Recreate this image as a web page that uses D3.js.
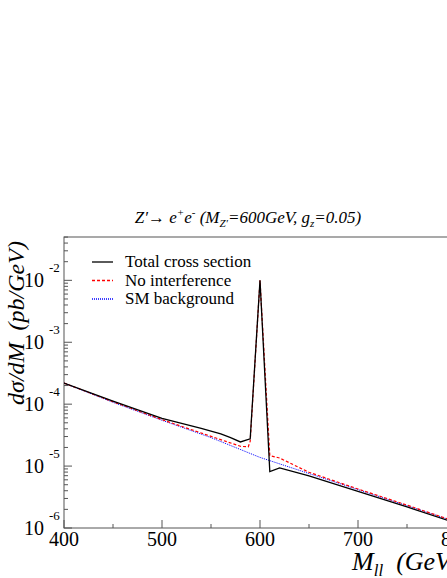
<!DOCTYPE html><html><head><script src="https://cdn.jsdelivr.net/npm/d3@7"></script>
<style>body{margin:0;background:#fff}text{font-family:"Liberation Serif",serif;white-space:pre}</style></head><body>
<script>
const xTicks=[400,500,600,700,800];
const yTicks=[-6,-5,-4,-3,-2];
const massSM=[400,450,500,550,600,650,700,750,800];
const logSM=[-3.66,-3.97,-4.26,-4.54,-4.86,-5.12,-5.38,-5.64,-5.9];
const massNI=[400,450,500,550,580,588,590,600,610,620,650,700,750,800];
const logNI=[-3.66,-3.96,-4.25,-4.52,-4.68,-4.69,-4.6,-2.0,-4.83,-4.87,-5.1,-5.37,-5.63,-5.9];
const massTot=[400,450,500,520,540,560,570,580,590,600,610,620,650,700,750,800];
const logTot=[-3.66,-3.95,-4.23,-4.31,-4.39,-4.48,-4.54,-4.61,-4.56,-2.0,-5.09,-5.03,-5.16,-5.41,-5.66,-5.92];
const W=447,H=578;
const svg=d3.select("body").append("svg").attr("width",W).attr("height",H);
const x=d3.scaleLinear().domain([400,800]).range([64,456]);
const y=d3.scaleLog().domain([1e-6,10**-1.3]).range([528,237]);
svg.append("rect").attr("x",64).attr("y",237).attr("width",392).attr("height",291).attr("fill","none").attr("stroke","#555");
const g=svg.append("g");
d3.range(400,801,50).forEach(v=>{const big=v%100===0;
 g.append("line").attr("x1",x(v)).attr("x2",x(v)).attr("y1",528).attr("y2",528-(big?8:4)).attr("stroke","#555");});
xTicks.forEach(v=>g.append("text").attr("x",x(v)).attr("y",546).attr("text-anchor","middle").attr("font-size",20).text(v));
yTicks.forEach(e=>{const yy=y(10**e);
 g.append("line").attr("x1",64).attr("x2",72).attr("y1",yy).attr("y2",yy).attr("stroke","#555");
 for(let k=2;k<10;k++){const ym=y(k*10**e);if(ym>237)g.append("line").attr("x1",64).attr("x2",68).attr("y1",ym).attr("y2",ym).attr("stroke","#555");}
 g.append("text").attr("x",44).attr("y",yy+7).attr("text-anchor","end").attr("font-size",20).text("10");
 g.append("text").attr("x",49).attr("y",yy-8).attr("font-size",13).text(e);
});
const line=d3.line().x(d=>x(d[0])).y(d=>y(10**d[1]));
svg.append("clipPath").attr("id","c").append("rect").attr("x",64).attr("y",237).attr("width",392).attr("height",291);
const P=svg.append("g").attr("clip-path","url(#c)");
P.append("path").attr("d",line(d3.zip(massSM,logSM))).attr("fill","none").attr("stroke","#00f").attr("stroke-width",1).attr("stroke-dasharray","1,1");
P.append("path").attr("d",line(d3.zip(massNI,logNI))).attr("fill","none").attr("stroke","#f00").attr("stroke-width",1.2).attr("stroke-dasharray","3,2");
P.append("path").attr("d",line(d3.zip(massTot,logTot))).attr("fill","none").attr("stroke","#000").attr("stroke-width",1.3);
const leg=[["Total cross section","#000",null],["No interference","#f00","3,2"],["SM background","#00f","1,1"]];
leg.forEach((l,i)=>{const yy=262+i*18.5;
 svg.append("line").attr("x1",92).attr("x2",113).attr("y1",yy).attr("y2",yy).attr("stroke",l[1]).attr("stroke-width",1.3).attr("stroke-dasharray",l[2]);
 svg.append("text").attr("x",125).attr("y",yy+5).attr("font-size",17).text(l[0]);});
svg.append("text").attr("x",248).attr("y",223).attr("text-anchor","middle").attr("font-size",17).attr("font-style","italic")
 .html('Z′→ e<tspan dy="-7" font-size="11">+</tspan><tspan dy="7">e</tspan><tspan dy="-7" font-size="11">-</tspan><tspan dy="7"> (M</tspan><tspan dy="4" font-size="11">Z′</tspan><tspan dy="-4">=600GeV, g</tspan><tspan dy="4" font-size="11">z</tspan><tspan dy="-4">=0.05)</tspan>');
svg.append("text").attr("transform","translate(24,323) rotate(-90)").attr("text-anchor","middle").attr("font-size",24).attr("font-style","italic").text("dσ/dM  (pb/GeV)");
svg.append("text").attr("x",352).attr("y",570).attr("font-size",26).attr("font-style","italic")
 .html('M<tspan dy="6" font-size="17">ll</tspan><tspan dy="-6">  (GeV)</tspan>');
</script></body></html>
